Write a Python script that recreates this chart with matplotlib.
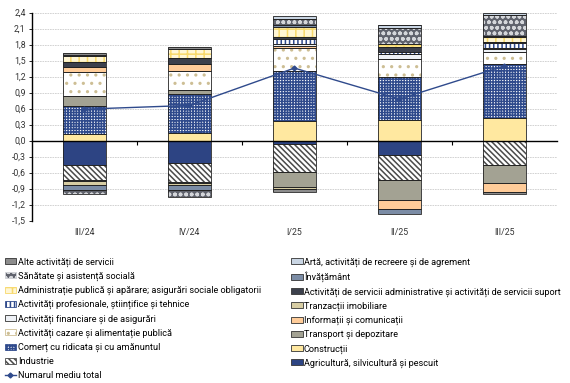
import numpy as np
import matplotlib
matplotlib.use("Agg")
import matplotlib.pyplot as plt
from matplotlib.patches import Patch
from matplotlib.lines import Line2D
from matplotlib.transforms import blended_transform_factory

plt.rcParams['font.family'] = ['Roboto', 'DejaVu Sans']
plt.rcParams['hatch.linewidth'] = 1.1

categories = ["III/24", "IV/24", "I/25", "II/25", "III/25"]

series_names = [
    "Agricultură, silvicultură și pescuit",
    "Industrie",
    "Construcții",
    "Comerț cu ridicata și cu amănuntul",
    "Transport și depozitare",
    "Activități cazare și alimentație publică",
    "Informații și comunicații",
    "Activități financiare și de asigurări",
    "Tranzacții imobiliare",
    "Activități profesionale, științifice și tehnice",
    "Activități de servicii administrative și activități de servicii suport",
    "Administrație publică și apărare; asigurări sociale obligatorii",
    "Învățământ",
    "Sănătate și asistență socială",
    "Artă, activități de recreere și de agrement",
    "Alte activități de servicii",
]

agricultura   = [-0.46, -0.42, -0.07, -0.27, -0.01]
industrie     = [-0.28, -0.35, -0.52, -0.47, -0.45]
constructii   = [0.12, 0.14, 0.36, 0.39, 0.43]
comert        = [0.52, 0.74, 0.95, 0.80, 1.01]
transport     = [0.19, 0.06, -0.28, -0.37, -0.34]
cazare        = [0.45, 0.36, 0.42, 0.34, 0.22]
informatii    = [0.10, 0.13, 0.05, -0.18, -0.16]
financiare    = [-0.02, -0.02, 0.03, 0.10, 0.06]
imobiliare    = [-0.07, -0.05, -0.03, 0.00, 0.02]
profesionale  = [0.00, 0.00, 0.09, 0.04, 0.09]
admin_serv    = [0.09, 0.12, 0.04, 0.08, 0.02]
adm_publica   = [0.12, 0.17, 0.19, 0.07, 0.10]
invatamant    = [-0.09, -0.08, 0.03, -0.09, 0.02]
sanatate      = [-0.09, -0.14, 0.13, 0.30, 0.38]
arta          = [0.02, 0.00, 0.05, 0.05, 0.04]
alte          = [0.03, 0.03, -0.06, 0.00, -0.04]

total = [0.59, 0.66, 1.36, 0.78, 1.40]

series_values = [agricultura, industrie, constructii, comert, transport, cazare,
                 informatii, financiare, imobiliare, profesionale, admin_serv,
                 adm_publica, invatamant, sanatate, arta, alte]

# (facecolor, hatch, hatchcolor)
styles = [
    ("#2D4483", None, None),
    ("#FFFFFF", "\\\\\\\\\\\\", "#4A4A4A"),
    ("#FFE8A0", None, None),
    ("#FFFFFF", "++++++", "#2F4A8C"),
    ("#A3A293", None, None),
    ("#FFFFFF", "..", "#CDBE94"),
    ("#FFCC99", None, None),
    ("#EEF1F6", None, None),
    ("#D7CDA3", None, None),
    ("#FFFFFF", "||||", "#2F4A8C"),
    ("#3C404C", None, None),
    ("#FFF6D5", "++", "#F7D86A"),
    ("#7B8CA5", None, None),
    ("#5F626C", "ooo", "#D4D6DA"),
    ("#C9D5E3", None, None),
    ("#8C8C8C", None, None),
]

fig = plt.figure(figsize=(5.70, 3.83), dpi=100)
ax = fig.add_axes([0.056, 0.424, 0.921, 0.543])

x = np.arange(len(categories))
width = 0.41
pos_bottom = np.zeros(len(categories))
neg_bottom = np.zeros(len(categories))
for vals, (fc, hatch, hc) in zip(series_values, styles):
    v = np.array(vals, dtype=float)
    bottom = np.where(v >= 0, pos_bottom, neg_bottom)
    ax.bar(x, v, width, bottom=bottom, color=fc, hatch=hatch,
           edgecolor=hc if hc else fc, linewidth=0, zorder=2)
    ax.bar(x, v, width, bottom=bottom, fill=False, edgecolor="#222222",
           linewidth=0.6, zorder=3)
    pos_bottom = pos_bottom + np.where(v >= 0, v, 0)
    neg_bottom = neg_bottom + np.where(v < 0, v, 0)

ax.plot(x, total, color="#2F4A8C", lw=1.0, marker="D", ms=2.5, zorder=4)

ax.set_xlim(-0.5, len(categories) - 0.5)
ax.set_ylim(-1.5, 2.4)
yt = np.round(np.arange(-1.5, 2.41, 0.3), 1)
ax.set_yticks(yt)
ax.set_yticklabels([f"{t:.1f}".replace(".", ",").replace("-0,0", "0,0") for t in yt],
                   fontsize=6.3, color="#333333")
ax.yaxis.grid(True, color="#CCCCCC", linestyle=(0, (2, 1)), linewidth=0.6, zorder=0)
ax.set_axisbelow(True)

for s in ["top", "right"]:
    ax.spines[s].set_visible(False)
ax.spines["bottom"].set_position(("data", 0))
ax.spines["bottom"].set_linewidth(1.0)
ax.spines["left"].set_linewidth(1.0)
ax.spines["bottom"].set_zorder(5)

ax.set_xticks(x)
ax.set_xticklabels([])
ax.tick_params(axis="x", which="major", length=0)
ax.set_xticks(np.arange(0.5, len(categories) - 0.5, 1), minor=True)
ax.tick_params(axis="x", which="minor", length=3, width=0.8, direction="out")
ax.tick_params(axis="y", length=2.5, width=0.6, pad=2)

tr = blended_transform_factory(ax.transData, ax.transAxes)
for xi, c in zip(x, categories):
    ax.text(xi, -0.035, c, transform=tr, ha="center", va="top",
            fontsize=6.3, color="#333333")

handles = []
for name, (fc, hatch, hc) in zip(series_names, styles):
    handles.append(Patch(facecolor=fc, hatch=hatch, edgecolor=hc if hc else "#333333",
                         linewidth=0.6))
line_handle = Line2D([0], [0], color="#2F4A8C", lw=1.0, marker="D", ms=2.5)

rev = list(range(len(series_names)))[::-1]
left_idx = rev[0::2]
right_idx = rev[1::2]

leg_kw = dict(frameon=False, fontsize=6.55, handlelength=1.3, handleheight=0.65,
              handletextpad=0.15, labelspacing=0.54, borderpad=0, borderaxespad=0)
leg1 = fig.legend([handles[i] for i in left_idx] + [line_handle],
                  [series_names[i] for i in left_idx] + ["Numarul mediu total"],
                  loc="upper left", bbox_to_anchor=(0.008, 0.328), **leg_kw)
leg2 = fig.legend([handles[i] for i in right_idx],
                  [series_names[i] for i in right_idx],
                  loc="upper left", bbox_to_anchor=(0.51, 0.328), **leg_kw)

fig.savefig("out.png", dpi=100)
